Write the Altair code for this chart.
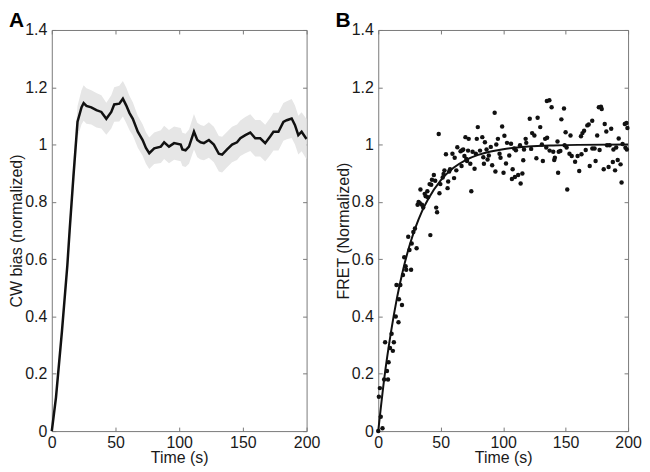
import altair as alt
import pandas as pd

# ---------------- Panel A: CW bias (normalized) ----------------
A_time = [0, 3.3, 8, 12.2, 14, 17, 20.2, 23.3, 25, 27.2,
          31, 35, 38.9, 42.8, 46.7, 49, 53, 55.8, 58.4, 61,
          63.6, 67.5, 71.3, 73.9, 76.5, 80.4, 85.6, 88.2, 92, 96,
          101.2, 102.5, 105, 107.7, 111.6, 114.2, 116.8, 119.4, 123.3, 127.2,
          131.1, 133.7, 137.6, 141.5, 145.4, 148, 151.9, 155.8, 159.7, 163.6,
          167.5, 171.4, 174, 177.9, 181.8, 184.4, 188.3, 190.9, 193.5, 196.1,
          199.5, 200]
A_bias = [0, 0.118, 0.35, 0.578, 0.70, 0.89, 1.08, 1.13, 1.145, 1.135,
          1.13, 1.12, 1.114, 1.09, 1.114, 1.14, 1.143, 1.16, 1.137, 1.11,
          1.09, 1.045, 1.016, 0.988, 0.97, 0.987, 0.993, 1.008, 0.993, 1.005,
          1.0, 0.983, 0.98, 0.993, 1.045, 1.016, 1.008, 1.005, 1.016, 1.0,
          0.968, 0.965, 0.983, 1.0, 1.008, 1.022, 1.033, 1.042, 1.022, 1.022,
          1.005, 1.028, 1.045, 1.045, 1.079, 1.085, 1.091, 1.068, 1.033, 1.045,
          1.022, 1.02]
A_sem = [0.005, 0.01, 0.02, 0.03, 0.04, 0.05, 0.055, 0.06, 0.062, 0.062,
         0.06, 0.06, 0.058, 0.056, 0.058, 0.06, 0.062, 0.062, 0.062, 0.06,
         0.058, 0.056, 0.055, 0.055, 0.055, 0.055, 0.057, 0.058, 0.058, 0.058,
         0.058, 0.058, 0.058, 0.06, 0.062, 0.06, 0.06, 0.06, 0.062, 0.062,
         0.062, 0.062, 0.062, 0.062, 0.062, 0.062, 0.063, 0.064, 0.064, 0.064,
         0.064, 0.065, 0.066, 0.066, 0.066, 0.066, 0.068, 0.068, 0.068, 0.068,
         0.07, 0.07]

# ---------------- Panel B: FRET (Normalized) ----------------
B_time = [0.0, 0.5, 1.3, 2.0, 3.4, 4.7, 5.5, 7.0, 7.8, 8.3,
          9.4, 10.7, 11.7, 12.5, 14.0, 14.6, 16.2, 16.6, 17.7, 19.0,
          19.8, 20.8, 21.9, 22.4, 24.0, 25.0, 26.3, 26.8, 28.1, 29.4,
          30.7, 31.5, 32.3, 33.3, 33.8, 35.0, 36.0, 37.2, 38.0, 39.3,
          39.8, 41.1, 41.7, 42.4, 43.0, 44.5, 45.6, 46.4, 47.1, 48.4,
          49.0, 49.7, 51.6, 52.3, 53.0, 54.2, 55.5, 56.0, 56.8, 57.5,
          59.4, 60.7, 61.2, 62.5, 63.3, 65.9, 66.7, 67.2, 68.0, 69.0,
          69.8, 70.5, 71.1, 71.9, 72.4, 73.7, 74.5, 75.5, 77.1, 78.1,
          78.9, 79.7, 81.5, 83.3, 84.1, 84.6, 85.4, 86.7, 87.5, 88.5,
          90.1, 91.2, 93.2, 93.8, 94.5, 95.8, 97.1, 97.9, 99.2, 100.3,
          101.0, 102.3, 103.1, 104.9, 106.3, 107.0, 107.6, 108.8, 109.4, 110.2,
          112.0, 113.5, 114.0, 115.4, 116.1, 116.7, 118.0, 118.5, 121.3, 122.4,
          123.2, 125.0, 126.6, 127.6, 129.7, 131.0, 131.8, 133.6, 134.5, 135.0,
          135.2, 137.0, 137.2, 138.8, 140.1, 140.9, 141.4, 143.5, 144.0, 144.5,
          145.8, 146.6, 148.7, 149.2, 150.0, 150.8, 151.3, 153.1, 153.9, 154.9,
          157.6, 159.6, 160.9, 162.3, 162.7, 163.5, 164.8, 166.1, 167.4, 168.5,
          169.3, 171.3, 171.4, 173.2, 174.0, 175.3, 176.6, 177.2, 178.3, 178.9,
          180.5, 181.3, 182.6, 183.2, 184.4, 185.2, 186.5, 187.8, 188.3, 189.6,
          190.5, 191.7, 192.5, 194.0, 194.8, 195.6, 197.4, 197.9, 198.7, 199.5,
          199.0]
B_fret = [0.00, 0.12, 0.15, 0.05, 0.01, 0.18, 0.31, 0.21, 0.18, 0.24,
          0.29, 0.34, 0.28, 0.31, 0.40, 0.51, 0.38, 0.46, 0.51, 0.44,
          0.545, 0.607, 0.575, 0.563, 0.678, 0.632, 0.563, 0.655, 0.695, 0.707,
          0.638, 0.79, 0.80, 0.795, 0.843, 0.79, 0.78, 0.828, 0.82, 0.837,
          0.816, 0.862, 0.684, 0.86, 0.877, 0.894, 0.874, 0.78, 0.764, 1.037,
          0.83, 0.862, 0.885, 0.897, 0.91, 0.966, 0.848, 0.871, 0.906, 0.914,
          0.968, 0.883, 0.954, 0.91, 0.991, 0.977, 0.925, 0.98, 0.983, 0.96,
          1.026, 0.95, 0.943, 0.979, 1.02, 0.933, 0.837, 0.975, 0.916, 0.968,
          1.02, 1.061, 0.979, 1.026, 0.956, 0.933, 1.008, 0.983, 0.948, 0.962,
          0.992, 0.928, 1.111, 0.906, 1.0, 1.02, 0.968, 0.954, 1.063, 0.902,
          1.031, 0.934, 1.006, 0.962, 1.003, 0.88, 0.914, 0.986, 0.887, 0.98,
          0.894, 0.998, 0.864, 0.899, 0.945, 0.983, 1.02, 1.006, 1.09, 0.985,
          1.04, 1.032, 0.952, 1.094, 1.061, 1.0, 0.943, 1.02, 0.99, 1.152,
          1.024, 1.155, 0.979, 1.13, 0.975, 0.946, 0.954, 1.011, 0.902, 0.975,
          0.978, 1.088, 1.126, 0.998, 1.043, 0.99, 0.843, 0.968, 1.032, 0.96,
          0.94, 0.96, 0.908, 1.029, 0.966, 1.04, 1.048, 0.981, 1.067, 1.07,
          0.925, 1.083, 0.986, 0.986, 0.943, 1.032, 1.13, 0.981, 1.132, 1.124,
          0.914, 1.072, 1.046, 0.998, 0.922, 0.998, 1.055, 0.939, 0.983, 0.91,
          0.99, 0.946, 1.021, 0.931, 0.868, 1.002, 1.072, 0.989, 1.075, 1.058,
          0.983]
FIT_time = [0, 5, 10, 15, 20, 25, 30, 35, 40, 50, 60, 70, 80, 90, 100, 120, 140, 160, 200]
FIT_fret = [0, 0.19, 0.34, 0.465, 0.565, 0.647, 0.713, 0.767, 0.81, 0.875,
            0.918, 0.946, 0.964, 0.976, 0.984, 0.993, 0.997, 0.999, 1.0]

X_TICKS = [0, 50, 100, 150, 200]
Y_TICKS = [0, 0.2, 0.4, 0.6, 0.8, 1.0, 1.2, 1.4]
PANEL_LETTERS = ["A", "B"]

dfA = pd.DataFrame({"t": A_time, "y": A_bias,
                    "lo": [b - s for b, s in zip(A_bias, A_sem)],
                    "hi": [b + s for b, s in zip(A_bias, A_sem)]})
dfB = pd.DataFrame({"t": B_time, "y": B_fret})
dfF = pd.DataFrame({"t": FIT_time, "y": FIT_fret})

WA, WB, H = 256, 251, 403
FONT = "Liberation Sans"
GRAY = "#7a7a7a"
xs = alt.Scale(domain=[0, 200], nice=False, zero=False)
ys = alt.Scale(domain=[0, 1.4], nice=False, zero=False)

common = dict(grid=False, domain=False, labelFont=FONT, titleFont=FONT,
              labelFontSize=16, titleFontSize=16, labelColor="#1a1a1a",
              titleColor="#1a1a1a", titleFontWeight="normal", tickColor=GRAY)


def main_x():
    return alt.Axis(title="Time (s)", values=X_TICKS, labelFlush=False, tickSize=0,
                    orient="bottom", labelPadding=3, titlePadding=0, **common)


def main_y(title):
    return alt.Axis(title=title, values=Y_TICKS, format="~g", tickSize=0,
                    orient="left", labelPadding=5, titlePadding=0, **common)


def tick_x(orient):
    return alt.Axis(title=None, labels=False, values=X_TICKS, tickSize=4,
                    orient=orient, offset=-H, **common)


def tick_y(orient, w):
    return alt.Axis(title=None, labels=False, values=Y_TICKS, tickSize=4,
                    orient=orient, offset=-w, **common)


def letter(ch):
    return alt.Chart(pd.DataFrame({"lab": [ch]})).mark_text(
        font=FONT, fontSize=21, fontWeight="bold", color="#000000",
        align="left", baseline="alphabetic"
    ).encode(text="lab:N", x=alt.value(-43), y=alt.value(-3))


# Panel A
bandA = alt.Chart(dfA).mark_area(color="#e6e6e6").encode(
    x=alt.X("t:Q", scale=xs, axis=main_x()),
    y=alt.Y("lo:Q", scale=ys, axis=main_y("CW bias (normalized)")),
    y2="hi:Q",
)
lineA = alt.Chart(dfA).mark_line(color="#111111", strokeWidth=2.5).encode(
    x=alt.X("t:Q", scale=xs, axis=tick_x("top")),
    y=alt.Y("y:Q", scale=ys, axis=tick_y("right", WA)),
)
ghostA = alt.Chart(dfA).mark_line(opacity=0).encode(
    x=alt.X("t:Q", scale=xs, axis=tick_x("bottom")),
    y=alt.Y("y:Q", scale=ys, axis=tick_y("left", WA)),
)
panelA = alt.layer(bandA, lineA, ghostA, letter(PANEL_LETTERS[0])).resolve_axis(
    x="independent", y="independent"
).properties(width=WA, height=H)

# Panel B
ptsB = alt.Chart(dfB).mark_circle(color="#111111", size=20, opacity=1).encode(
    x=alt.X("t:Q", scale=xs, axis=main_x()),
    y=alt.Y("y:Q", scale=ys, axis=main_y("FRET (Normalized)")),
)
fitB = alt.Chart(dfF).mark_line(color="#111111", strokeWidth=2, interpolate="monotone").encode(
    x=alt.X("t:Q", scale=xs, axis=tick_x("top")),
    y=alt.Y("y:Q", scale=ys, axis=tick_y("right", WB)),
)
ghostB = alt.Chart(dfF).mark_line(opacity=0).encode(
    x=alt.X("t:Q", scale=xs, axis=tick_x("bottom")),
    y=alt.Y("y:Q", scale=ys, axis=tick_y("left", WB)),
)
panelB = alt.layer(ptsB, fitB, ghostB, letter(PANEL_LETTERS[1])).resolve_axis(
    x="independent", y="independent"
).properties(width=WB, height=H)

chart = alt.hconcat(panelA, panelB, spacing=14).properties(
    padding={"left": 0, "top": 0, "right": 0, "bottom": 0},
    background="white",
).configure_view(stroke=GRAY, strokeWidth=1)

chart.save("out.html", embed_options={"renderer": "svg", "actions": False})
